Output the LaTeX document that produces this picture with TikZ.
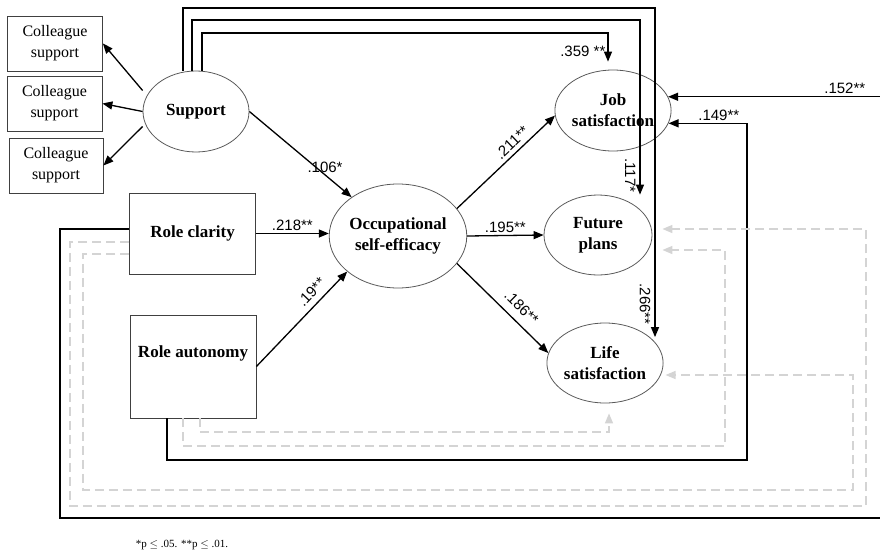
\documentclass[tikz,border=0pt]{standalone}
\usepackage{fontspec}
\setmainfont{Liberation Serif}
\setsansfont{Liberation Sans}
\usetikzlibrary{shapes.geometric,arrows.meta,positioning}

\begin{document}
\begin{tikzpicture}[x=1pt,y=-1pt,
    latent/.style={ellipse,draw=black!65,line width=.8pt,inner sep=0pt,minimum width=108pt,minimum height=80pt,align=center,font=\fontsize{17}{21}\selectfont\bfseries},
    obsbox/.style={rectangle,draw=black!75,line width=.8pt,inner sep=0pt,align=center},
    arr/.style={-{Triangle[length=10pt,width=8pt]},line width=1.3pt},
    nsarr/.style={draw=black!17,dash pattern=on 9pt off 5pt,line width=1.4pt,-{Triangle[length=10pt,width=8pt]}},
    coef/.style={font=\sffamily\fontsize{15}{17}\selectfont,inner sep=2pt}]
    \useasboundingbox (0,0) rectangle (880,554);
    % observed boxes
    \node[obsbox,minimum width=95pt,minimum height=55pt,font=\fontsize{16}{21}\selectfont] (cs1) at (55,43.5) {Colleague\\support};
    \node[obsbox,minimum width=95pt,minimum height=55pt,font=\fontsize{16}{21}\selectfont] (cs2) at (54.5,103.5) {Colleague\\support};
    \node[obsbox,minimum width=94pt,minimum height=55pt,font=\fontsize{16}{21}\selectfont] (cs3) at (56,165.5) {Colleague\\support};
    \node[obsbox,minimum width=126pt,minimum height=81pt,font=\fontsize{17}{21}\selectfont\bfseries] (clar) at (192.5,233.5) {Role clarity};
    \node[obsbox,minimum width=126pt,minimum height=103pt] (auto) at (193,366.5) {};
    \node[font=\fontsize{17}{21}\selectfont\bfseries] (autotxt) at ([yshift=13pt]auto.center) {Role autonomy};
    % latent
    \node[latent,minimum width=106pt,minimum height=81pt] (sup) at (196,111.5) {Support};
    \node[latent,minimum width=127pt,minimum height=104pt] (ose) at (398,236) {Occupational\\self-efficacy};
    \node[latent,minimum height=81pt] (job) at (613,110.5) {Job\\satisfaction};
    \node[latent] (fut) at (598,235) {Future\\plans};
    \node[latent,minimum width=107pt] (life) at (605,363) {Life\\satisfaction};

    % measurement
    \foreach \i/\s in {1/21,2/0,3/-15}
    \draw[arr] ([yshift=\s pt]sup.west) -- (cs\i.east);

    % structural paths
    \draw[arr] (sup.east) -- (ose) node[pos=.74,above,coef]{.106*};
    \draw[arr] (clar.east) -- (clar.east -| ose.west) node[midway,above,coef]{.218**};
    \draw[arr] (auto.east) -- (ose.215) node[pos=.7,sloped,above=4pt,coef]{.19**};
    \draw[arr] (ose.25) -- (job.185) node[pos=.63,sloped,above=2pt,coef]{.211**};
    \draw[arr] (ose.east) -- (fut.west) node[midway,above,coef]{.195**};
    \draw[arr] (ose.-25) -- (life.170) node[pos=.6,sloped,above=6pt,coef]{.186**};

    % support to outcomes
    \coordinate (t1) at (655,8);
    \coordinate (t2) at (640,20);
    \coordinate (t3) at (608,33);
    \draw[arr] ([xshift=-13pt]sup.north) |- (t1) -- (t1 |- life.30) node[pos=.9,rotate=-90,anchor=north,coef,inner sep=4pt]{.266**};
    \draw[arr] ([xshift=-4pt]sup.north) |- (t2) -- (t2 |- fut.north) node[pos=.89,rotate=-90,anchor=north,coef,inner sep=4pt]{.117*};
    \draw[arr,shorten >=8pt] ([xshift=6pt]sup.north) |- (t3) -- (t3 |- job.north) node[midway,left,coef]{.359 **};

    % role clarity / autonomy to outcomes
    \coordinate (b1) at (60,518);
    \coordinate (b1r) at (881,518);
    \draw[arr] ([yshift=4.5pt]clar.west) -| (b1) -- (b1r) -- (b1r |- job.14) -- (job.14) node[pos=.17,above,coef]{.152**};
    \coordinate (b2) at (747,460);
    \draw[arr] ([xshift=-26pt]auto.south) |- (b2) -- (b2 |- job.-13) -- (job.-13) node[pos=.36,above,coef]{.149**};

    % non significant
    \coordinate (d1) at (70,506);
    \coordinate (d1r) at (866,506);
    \draw[nsarr] ([yshift=-8.5pt]clar.west) -| (d1) -- (d1r) |- ([xshift=10pt,yshift=6pt]fut.east);
    \coordinate (d2) at (83,490);
    \coordinate (d2r) at (853,490);
    \draw[nsarr] ([yshift=-20.5pt]clar.west) -| (d2) -- (d2r) |- ([xshift=2pt,yshift=-12pt]life.east);
    \coordinate (d3) at (725,446);
    \draw[nsarr] ([xshift=-10pt]auto.south) |- (d3) |- ([xshift=10pt,yshift=-15pt]fut.east);
    \coordinate (d4) at (609,432);
    \draw[nsarr] ([xshift=7pt]auto.south) |- (d4) -- ([xshift=4pt,yshift=-10pt]life.south);

    \node[font=\fontsize{11}{13}\selectfont] (note) at (182,545) {*p $\leq$ .05. **p $\leq$ .01.};
\end{tikzpicture}
\end{document}
